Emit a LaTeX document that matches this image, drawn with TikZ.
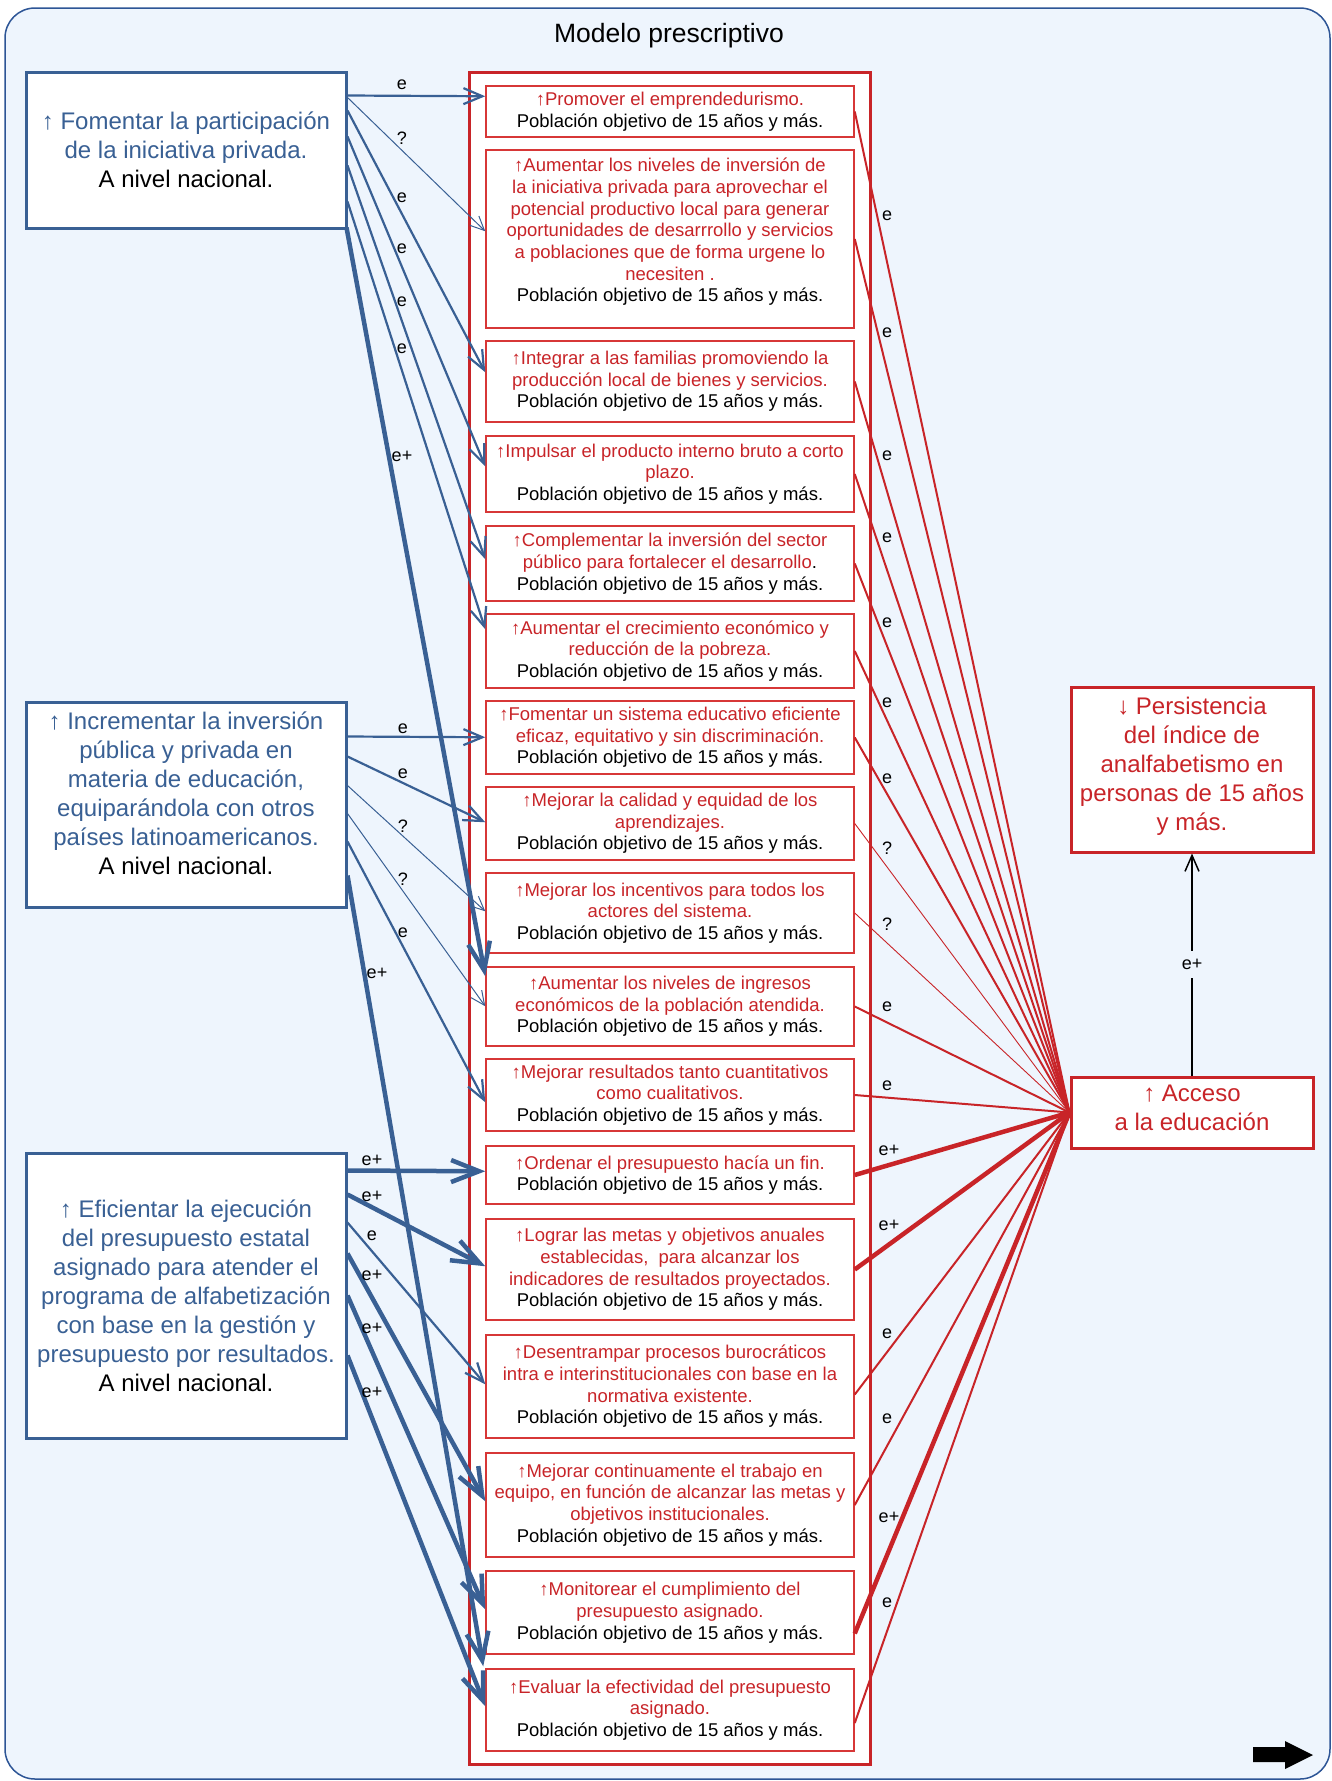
\documentclass[tikz,border=0pt]{standalone}
\usepackage{fontspec}
\setmainfont{Liberation Sans}
\usetikzlibrary{arrows.meta,calc}
\definecolor{bgblue}{RGB}{238,245,253}
\definecolor{frameblue}{RGB}{45,85,150}
\definecolor{cblue}{RGB}{57,96,148}
\definecolor{cred}{RGB}{200,36,40}
\definecolor{boxred}{RGB}{215,55,55}
\newcommand{\pobtxt}{\textcolor{black}{Población objetivo de 15 años y más.}}
\tikzset{
 ibox/.style={draw=boxred, line width=1.5pt, fill=white, text=cred, align=center, minimum width=368pt, inner sep=0pt, font=\fontsize{18.5}{21.7}\selectfont},
 lbox/.style={draw=cblue, line width=3pt, fill=white, text=cblue, align=center, minimum width=320pt, inner sep=0pt, font=\fontsize{24}{29}\selectfont},
 rbox/.style={draw=cred, line width=3pt, fill=white, text=cred, align=center, minimum width=242pt, inner sep=0pt, font=\fontsize{24}{29}\selectfont},
 lab/.style={font=\fontsize{18}{21}\selectfont, inner sep=0pt, text=black},
 rl/.style={draw=cred, line width=2pt},
 rlthin/.style={draw=cred, line width=0.9pt},
 rlthick/.style={draw=cred, line width=4.5pt},
 ba/.style={draw=cblue, line width=2.2pt, -{Straight Barb[length=19pt,width=16pt]}},
 bathin/.style={draw=cblue, line width=1pt, -{Straight Barb[length=14pt,width=13pt]}},
 bathick/.style={draw=cblue, line width=4.5pt, -{Straight Barb[length=28pt,width=22pt]}},
}
\begin{document}
\begin{tikzpicture}[x=1pt,y=-1pt]
\useasboundingbox (0,0) rectangle (1332,1781);
\fill[white] (0,0) rectangle (1332,1781);
\draw[frameblue, fill=bgblue, line width=1.5pt, rounded corners=30pt] (5,8) rectangle (1330,1779);
\node[font=\fontsize{26.5}{31}\selectfont] (title) at (669,36) {Modelo prescriptivo};
\node[draw=cred, line width=3pt, fill=white, minimum width=401pt, minimum height=1692pt, inner sep=0pt] (cont) at (669.5,918) {};

% inner boxes
\node[ibox, minimum height=51pt] (b1) at (670,111.5) {↑Promover el emprendedurismo.\\\pobtxt};
\node[ibox, minimum height=178pt, text depth=18pt] (b2) at (670,239) {↑Aumentar los niveles de inversión de\\la iniciativa privada para aprovechar el\\potencial productivo local para generar\\oportunidades de desarrrollo y servicios\\a poblaciones que de forma urgene lo\\necesiten .\\\pobtxt};
\node[ibox, minimum height=81pt] (b3) at (670,381.5) {↑Integrar a las familias promoviendo la\\producción local de bienes y servicios.\\\pobtxt};
\node[ibox, minimum height=76pt] (b4) at (670,474) {↑Impulsar el producto interno bruto a corto\\plazo.\\\pobtxt};
\node[ibox, minimum height=75pt] (b5) at (670,563.5) {↑Complementar la inversión del sector\\público para fortalecer el desarrollo\textcolor{black}{.}\\\pobtxt};
\node[ibox, minimum height=74pt] (b6) at (670,651) {↑Aumentar el crecimiento económico y\\reducción de la pobreza.\\\pobtxt};
\node[ibox, minimum height=73pt] (b7) at (670,737.5) {↑Fomentar un sistema educativo eficiente\\eficaz, equitativo y sin discriminación.\\\pobtxt};
\node[ibox, minimum height=73pt] (b8) at (670,823.5) {↑Mejorar la calidad y equidad de los\\aprendizajes.\\\pobtxt};
\node[ibox, minimum height=80pt] (b9) at (670,913) {↑Mejorar los incentivos para todos los\\actores del sistema.\\\pobtxt};
\node[ibox, minimum height=79pt] (b10) at (670,1006.5) {↑Aumentar los niveles de ingresos\\económicos de la población atendida.\\\pobtxt};
\node[ibox, minimum height=72pt] (b11) at (670,1095) {↑Mejorar resultados tanto cuantitativos\\como cualitativos.\\\pobtxt};
\node[ibox, minimum height=58pt] (b12) at (670,1175) {↑Ordenar el presupuesto hacía un fin.\\\pobtxt};
\node[ibox, minimum height=101pt] (b13) at (670,1269.5) {↑Lograr las metas y objetivos anuales\\establecidas,~ para alcanzar los\\indicadores de resultados proyectados.\\\pobtxt};
\node[ibox, minimum height=103pt] (b14) at (670,1386.5) {↑Desentrampar procesos burocráticos\\intra e interinstitucionales con base en la\\normativa existente.\\\pobtxt};
\node[ibox, minimum height=104pt] (b15) at (670,1505) {↑Mejorar continuamente el trabajo en\\equipo, en función de alcanzar las metas y\\objetivos institucionales.\\\pobtxt};
\node[ibox, minimum height=83pt] (b16) at (670,1612.5) {↑Monitorear el cumplimiento del\\presupuesto asignado.\\\pobtxt};
\node[ibox, minimum height=82pt] (b17) at (670,1710) {↑Evaluar la efectividad del presupuesto\\asignado.\\\pobtxt};

% left boxes
\node[lbox, minimum height=156pt] (a1) at (186,150) {↑ Fomentar la participación\\de la iniciativa privada.\\\textcolor{black}{A nivel nacional.}};
\node[lbox, minimum height=205pt, text depth=22pt] (a2) at (186,804.5) {↑ Incrementar la inversión\\pública y privada en\\materia de educación,\\equiparándola con otros\\países latinoamericanos.\\\textcolor{black}{A nivel nacional.}};
\node[lbox, minimum height=285pt] (a3) at (186,1295.5) {↑ Eficientar la ejecución\\del presupuesto estatal\\asignado para atender el\\programa de alfabetización\\con base en la gestión y\\presupuesto por resultados.\\\textcolor{black}{A nivel nacional.}};

% right boxes
\node[rbox, minimum height=165pt, text depth=11pt] (pers) at (1192,769.5) {↓ Persistencia\\del índice de\\analfabetismo en\\personas de 15 años\\y más.};
\node[rbox, minimum height=71pt, text depth=10pt] (acc) at (1192,1112.5) {↑ Acceso\\a la educación};

% black arrow
\draw[black, line width=1.5pt, -{Straight Barb[length=16pt,width=14pt]}] (acc.north) -- node[lab, fill=bgblue, inner sep=8pt] (lep) {e+} (pers.south);

% red lines
\draw[rl] (b1.east) -- (acc.west);
\draw[rl] (b2.east) -- (acc.west);
\draw[rl] (b3.east) -- (acc.west);
\draw[rl] (b4.east) -- (acc.west);
\draw[rl] (b5.east) -- (acc.west);
\draw[rl] (b6.east) -- (acc.west);
\draw[rl] (b7.east) -- (acc.west);
\draw[rlthin] (b8.east) -- (acc.west);
\draw[rlthin] (b9.east) -- (acc.west);
\draw[rl] (b10.east) -- (acc.west);
\draw[rl] (b11.east) -- (acc.west);
\draw[rlthick] (b12.east) -- (acc.west);
\draw[rlthick] (b13.east) -- (acc.west);
\draw[rl] ($(b14.east)+(0,8)$) -- (acc.west);
\draw[rl] (b15.east) -- (acc.west);
\draw[rlthick] ($(b16.east)+(0,21)$) -- (acc.west);
\draw[rl] ($(b17.east)+(0,13)$) -- (acc.west);

\node[lab] (r1) at (887,216) {e};
\node[lab] (r2) at (887,333) {e};
\node[lab] (r3) at (887,456) {e};
\node[lab] (r4) at (887,538) {e};
\node[lab] (r5) at (887,623) {e};
\node[lab] (r6) at (887,703) {e};
\node[lab] (r7) at (887,779) {e};
\node[lab] (r8) at (887,848) {?};
\node[lab] (r9) at (887,924) {?};
\node[lab] (r10) at (887,1007) {e};
\node[lab] (r11) at (887,1086) {e};
\node[lab] (r12) at (889,1150) {e+};
\node[lab] (r13) at (889,1225) {e+};
\node[lab] (r14) at (887,1334) {e};
\node[lab] (r15) at (887,1419) {e};
\node[lab] (r16) at (889,1517) {e+};
\node[lab] (r17) at (887,1603) {e};

% blue arrows from a1
\draw[ba] ($(a1.north east)+(0,25)$) -- ($(b1.north west)+(0,11)$);
\draw[bathin] ($(a1.north east)+(0,27)$) -- ($(b2.north west)+(0,82)$);
\draw[ba] ($(a1.north east)+(0,40)$) -- ($(b3.north west)+(0,32)$);
\draw[ba] ($(a1.north east)+(0,66)$) -- ($(b4.north west)+(0,31)$);
\draw[ba] ($(a1.north east)+(0,95)$) -- ($(b5.north west)+(0,34)$);
\draw[ba] ($(a1.north east)+(0,131)$) -- ($(b6.north west)+(0,16)$);
\draw[bathick] ($(a1.south east)+(-1,-2)$) -- ($(b10.north west)+(0,10)$);
% from a2
\draw[ba] ($(a2.north east)+(0,36)$) -- ($(b7.north west)+(0,37)$);
\draw[ba] ($(a2.north east)+(0,56)$) -- ($(b8.north west)+(0,36)$);
\draw[bathin] ($(a2.north east)+(0,85)$) -- ($(b9.north west)+(0,39)$);
\draw[bathin] ($(a2.north east)+(0,113)$) -- ($(b10.north west)+(0,40)$);
\draw[ba] ($(a2.north east)+(0,141)$) -- ($(b11.north west)+(0,44)$);
\draw[bathick] ($(a2.north east)+(0,175)$) -- ($(b17.north west)+(-2,-2)$);
% from a3
\draw[bathick] ($(a3.north east)+(0,19)$) -- ($(b12.north west)+(0,26)$);
\draw[bathick] ($(a3.north east)+(0,43)$) -- ($(b13.north west)+(0,48)$);
\draw[ba] ($(a3.north east)+(0,71)$) -- ($(b14.north west)+(0,50)$);
\draw[bathick] ($(a3.north east)+(0,102)$) -- ($(b15.north west)+(0,49)$);
\draw[bathick] ($(a3.north east)+(0,144)$) -- ($(b16.north west)+(0,39)$);
\draw[bathick] ($(a3.north east)+(0,204)$) -- ($(b17.north west)+(0,38)$);

% blue labels
\node[lab] (l1) at (402,85) {e};
\node[lab] (l2) at (402,138) {?};
\node[lab] (l3) at (402,198) {e};
\node[lab] (l4) at (402,249) {e};
\node[lab] (l5) at (402,302) {e};
\node[lab] (l6) at (402,349) {e};
\node[lab] (l7) at (402,456) {e+};
\node[lab] (m1) at (403,729) {e};
\node[lab] (m2) at (403,774) {e};
\node[lab] (m3) at (403,826) {?};
\node[lab] (m4) at (403,879) {?};
\node[lab] (m5) at (403,933) {e};
\node[lab] (m6) at (377,973) {e+};
\node[lab] (n1) at (372,1160) {e+};
\node[lab] (n2) at (372,1196) {e+};
\node[lab] (n3) at (372,1236) {e};
\node[lab] (n4) at (372,1275) {e+};
\node[lab] (n5) at (372,1328) {e+};
\node[lab] (n6) at (372,1392) {e+};

% page arrow
\fill[black] (1253,1747) -- (1285,1747) -- (1285,1741) -- (1313,1755) -- (1285,1769) -- (1285,1762) -- (1253,1762) -- cycle;
\end{tikzpicture}
\end{document}
